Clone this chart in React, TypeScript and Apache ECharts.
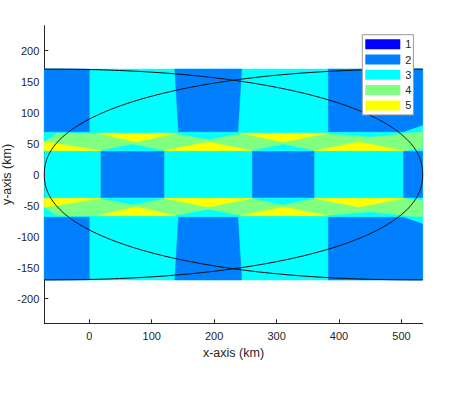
import React, { useEffect, useRef } from "react";
import * as echarts from "echarts";

// ---- axis ticks ----
const xTicks = [0, 100, 200, 300, 400, 500];
const yTicks = [-200, -150, -100, -50, 0, 50, 100, 150, 200];
const xRange = [-72, 534];
const yRange = [-240, 240];

// ---- legend levels ----
const levels = ["1", "2", "3", "4", "5"];
const levelColors = ["#0000ff", "#007fff", "#00ffff", "#80ff80", "#ffff00"];

// ---- coverage regions (data coordinates, km) ----
// level 3 background field
const fieldArea: number[][][] = [
  [[-72, 170], [534, 170], [534, -170], [-72, -170]],
];
// level 2 blocks
const level2Blocks: number[][][] = [
  [[-72, 170], [0, 170], [0, 69], [-72, 69]],
  [[137, 170], [244, 170], [238, 69], [143, 69]],
  [[383, 170], [534, 170], [534, 80], [503, 69], [383, 69]],
  [[18.8, 37], [119.7, 37], [119.7, -37], [18.8, -37]],
  [[261.3, 37], [360, 37], [360, -37], [261.3, -37]],
  [[503.4, 37], [534, 37], [534, -37], [503.4, -37]],
  [[-72, -170], [0, -170], [0, -69], [-72, -69]],
  [[137, -170], [244, -170], [238, -69], [143, -69]],
  [[383, -170], [534, -170], [534, -80], [503, -69], [383, -69]],
];
// level 4 bands
const level4Bands: number[][][] = [
  [[-72, 38.5], [503, 38.5], [534, 42], [534, 68], [503, 66.5], [-72, 66.5]],
  [[-72, -38.5], [503, -38.5], [534, -42], [534, -68], [503, -66.5], [-72, -66.5]],
];
// level 5 triangles
const level5Triangles: number[][][] = [
  [[14, 66.5], [139, 66.5], [75, 52.5]],
  [[242, 66.5], [383, 66.5], [311, 52.5]],
  [[-72, 38.5], [18.8, 38.5], [-72, 53]],
  [[119.7, 38.5], [261.3, 38.5], [190, 52.5]],
  [[360, 38.5], [503.4, 38.5], [432, 52.5]],
  [[14, -66.5], [139, -66.5], [75, -52.5]],
  [[242, -66.5], [383, -66.5], [311, -52.5]],
  [[-72, -38.5], [18.8, -38.5], [-72, -53]],
  [[119.7, -38.5], [261.3, -38.5], [190, -52.5]],
  [[360, -38.5], [503.4, -38.5], [432, -52.5]],
];
// level 3 small patches inside the bands
const level3Patches: number[][][] = [
  [[-72, 66.5], [-53, 66.5], [-72, 53]],
  [[139, 66.5], [242, 66.5], [190, 57]],
  [[383, 66.5], [503, 66.5], [450, 61]],
  [[18.8, 38.5], [119.7, 38.5], [69, 48.5]],
  [[261.3, 38.5], [360, 38.5], [310.5, 48.5]],
  [[-72, -66.5], [-53, -66.5], [-72, -53]],
  [[139, -66.5], [242, -66.5], [190, -57]],
  [[383, -66.5], [503, -66.5], [450, -61]],
  [[18.8, -38.5], [119.7, -38.5], [69, -48.5]],
  [[261.3, -38.5], [360, -38.5], [310.5, -48.5]],
];

// ---- footprint boundary curves: [centerX, semiAxisX, semiAxisY, exponent, side] ----
const curveParams: number[][] = [
  [-72, 606, 170, 2.2, 1],
  [534, 606, 170, 2.2, -1],
];

type Region = { level: number; points: number[][] };
const regions: Region[] = [
  ...fieldArea.map((p) => ({ level: 3, points: p })),
  ...level2Blocks.map((p) => ({ level: 2, points: p })),
  ...level4Bands.map((p) => ({ level: 4, points: p })),
  ...level5Triangles.map((p) => ({ level: 5, points: p })),
  ...level3Patches.map((p) => ({ level: 3, points: p })),
];

const FONT = "'Liberation Sans', Arial, Helvetica, sans-serif";
const TXT = "#262626";

export default function App() {
  const ref = useRef<HTMLDivElement>(null);
  useEffect(() => {
    if (!ref.current) return;
    const chart = echarts.init(ref.current, null, { renderer: "svg" });
    const option: any = {
      animation: false,
      backgroundColor: "#ffffff",
      textStyle: { fontFamily: FONT },
      grid: {
        left: 44.3,
        right: 26.3,
        top: 25.7,
        bottom: 71.7,
        containLabel: false,
        outerBoundsMode: "none",
      },
      legend: {
        data: levels,
        orient: "vertical",
        left: 362.3,
        top: 34.7,
        icon: "rect",
        itemWidth: 35,
        itemHeight: 10,
        itemGap: 4.3,
        padding: [4, 2, 4, 3],
        borderColor: "#9a9a9a",
        borderWidth: 1,
        backgroundColor: "#ffffff",
        selectedMode: false,
        textStyle: { fontSize: 11, color: TXT, fontFamily: FONT, lineHeight: 10 },
      },
      xAxis: {
        type: "value",
        min: xRange[0],
        max: xRange[1],
        name: "x-axis (km)",
        nameLocation: "middle",
        nameGap: 23,
        nameMoveOverlap: false,
        nameTextStyle: { fontSize: 12.5, color: TXT, fontFamily: FONT },
        axisLine: { show: true, onZero: false, lineStyle: { color: TXT, width: 1 } },
        axisTick: { show: true, inside: true, length: 4, customValues: xTicks, lineStyle: { color: TXT } },
        axisLabel: { customValues: xTicks, margin: 7, fontSize: 11, color: TXT, fontFamily: FONT },
        splitLine: { show: false },
      },
      yAxis: {
        type: "value",
        min: yRange[0],
        max: yRange[1],
        name: "y-axis (km)",
        nameLocation: "middle",
        nameRotate: 90,
        nameGap: 31,
        nameMoveOverlap: false,
        nameTextStyle: { fontSize: 12.5, color: TXT, fontFamily: FONT },
        axisLine: { show: true, onZero: false, lineStyle: { color: TXT, width: 1 } },
        axisTick: { show: true, inside: true, length: 4, customValues: yTicks, lineStyle: { color: TXT } },
        axisLabel: { customValues: yTicks, margin: 5, fontSize: 11, color: TXT, fontFamily: FONT },
        splitLine: { show: false },
      },
      series: [
        {
          type: "custom",
          name: "coverage",
          silent: true,
          z: 1,
          data: regions.map((r, i) => [r.points[0][0], r.points[0][1], i]),
          renderItem: (params: any, api: any) => {
            const r = regions[params.dataIndex];
            const col = levelColors[r.level - 1];
            return {
              type: "polygon",
              shape: { points: r.points.map((p) => api.coord(p)) },
              style: { fill: col, stroke: col, lineWidth: 0.5 },
            };
          },
        },
        {
          type: "custom",
          name: "boundary",
          silent: true,
          z: 3,
          data: curveParams.map((c, i) => [c[0], 0, i]),
          renderItem: (params: any, api: any) => {
            const [cx, a, b, n, side] = curveParams[params.dataIndex];
            const pts: number[][] = [];
            const N = 240;
            for (let k = 0; k <= N; k++) {
              const th = -Math.PI / 2 + (Math.PI * k) / N;
              const c = Math.cos(th);
              const s = Math.sin(th);
              const x = cx + side * a * Math.pow(Math.abs(c), 2 / n);
              const y = b * Math.sign(s) * Math.pow(Math.abs(s), 2 / n);
              pts.push(api.coord([x, y]));
            }
            return {
              type: "polyline",
              shape: { points: pts },
              style: { fill: null, stroke: "#111111", lineWidth: 1 },
            };
          },
        },
        ...levels.map((name, i) => ({
          type: "custom",
          name,
          data: [],
          itemStyle: { color: levelColors[i] },
          renderItem: () => null,
        })),
      ],
    };
    chart.setOption(option);
    return () => chart.dispose();
  }, []);
  return (
    <div
      ref={ref}
      style={{ position: "absolute", left: 0, top: 0, width: 449, height: 395, background: "#fff" }}
    />
  );
}
